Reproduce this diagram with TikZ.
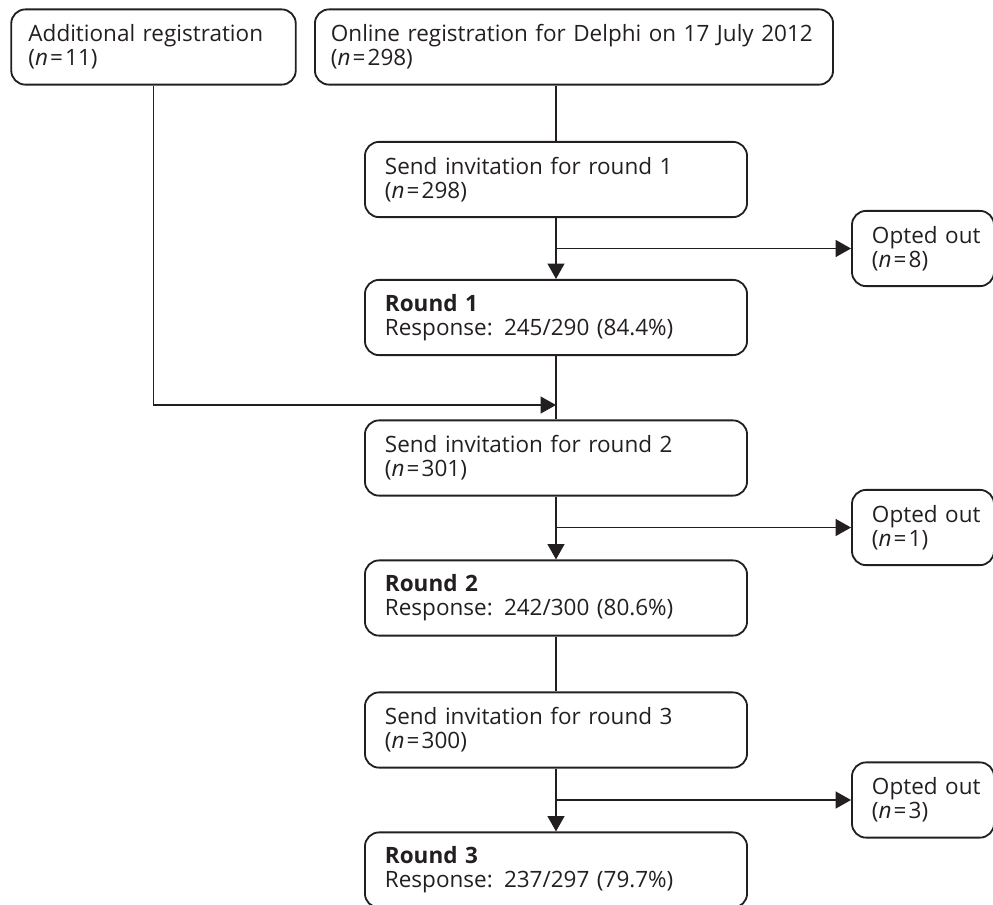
\documentclass[tikz,border=0pt]{standalone}
\usepackage{fontspec}
\setmainfont{Open Sans}
\usetikzlibrary{arrows.meta,positioning,calc}
\definecolor{txt}{HTML}{231F20}
\newcommand{\nval}[1]{(\textit{n}\kern1.5pt=\kern1.5pt#1)}

\begin{document}
\begin{tikzpicture}[
  x=0.025cm, y=-0.025cm,
  >={Triangle[length=11pt,width=12pt]},
  box/.style={draw=txt, line width=1.3pt, rounded corners=10pt, minimum height=1.88cm, inner xsep=0.5cm, inner ysep=0pt, align=left, text=txt, font=\fontsize{16}{17.1}\selectfont},
  mainbox/.style={box, text width=8.55cm},
  optbox/.style={box, text width=2.55cm},
  arrow/.style={->, line width=1.3pt, color=txt},
  conn/.style={line width=1.3pt, color=txt},
]
\useasboundingbox (0,0) rectangle (993,904);

% registration
\node[box, text width=6.25cm, inner xsep=0.43cm] (addreg) at (153.5, 47) {Additional registration\\\nval{11}};
\node[box, text width=12.15cm, inner xsep=0.4cm] (online) at (574, 47) {Online registration for Delphi on 17 July~2012\\\nval{298}};

% main column
\node[mainbox] (inv1) at (556, 179.5) {Send invitation for round 1\\\nval{298}};
\node[mainbox] (round1) at (556, 317.5) {\textbf{Round 1}\\Response: 245/290 (84.4\%)};
\node[mainbox] (inv2) at (556, 458) {Send invitation for round 2\\\nval{301}};
\node[mainbox] (round2) at (556, 598) {\textbf{Round 2}\\Response: 242/300 (80.6\%)};
\node[mainbox] (inv3) at (556, 730) {Send invitation for round 3\\\nval{300}};
\node[mainbox] (round3) at (556, 870) {\textbf{Round 3}\\Response: 237/297 (79.7\%)};

% opted out
\node[optbox] (opt1) at (923, 248.5) {Opted~out\\\nval{8}};
\node[optbox] (opt2) at (923, 527.5) {Opted~out\\\nval{1}};
\node[optbox] (opt3) at (923, 800) {Opted~out\\\nval{3}};

\coordinate (merge) at (556, 405);

\draw[conn] (inv1.north |- online.south) -- (inv1.north);
\draw[arrow] (inv1.south) -- (round1.north);
\draw[arrow] (inv1.south |- opt1.west) -- (opt1.west);
\draw[conn] (round1.south) -- (inv2.north);
\draw[arrow] (addreg.south) |- (merge);
\draw[arrow] (inv2.south) -- (round2.north);
\draw[arrow] (inv2.south |- opt2.west) -- (opt2.west);
\draw[conn] (round2.south) -- (inv3.north);
\draw[arrow] (inv3.south) -- (round3.north);
\draw[arrow] (inv3.south |- opt3.west) -- (opt3.west);

\end{tikzpicture}
\end{document}
